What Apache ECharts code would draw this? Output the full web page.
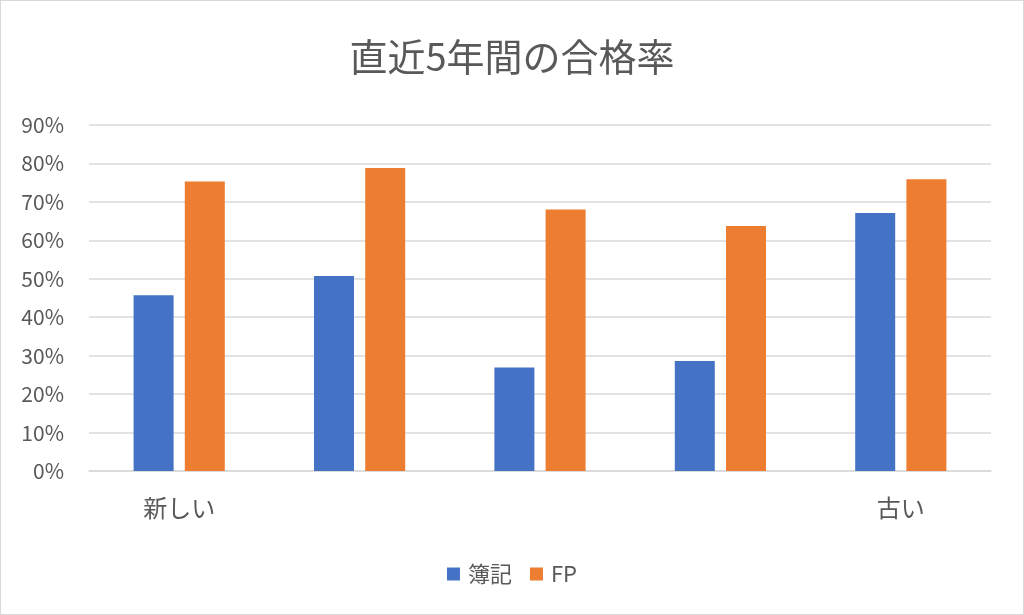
<!DOCTYPE html>
<html><head><meta charset="utf-8">
<script src="https://cdn.jsdelivr.net/npm/echarts@6/dist/echarts.min.js"></script>
<style>
html,body{margin:0;padding:0;background:#fff;}
#c{width:1022px;height:613px;border:1px solid #d9d9d9;}
</style></head>
<body><div id="c"></div>
<script>
const categories = ['新しい', '', '', '', '古い'];
const boki = [45.7, 50.7, 26.9, 28.6, 67.1];
const fp = [75.3, 78.8, 68.0, 63.7, 75.9];
const yTicks = [0, 10, 20, 30, 40, 50, 60, 70, 80, 90];

const font = '"Noto Sans CJK JP", "Noto Sans", sans-serif';
const chart = echarts.init(document.getElementById('c'));
chart.setOption({
  backgroundColor: '#fff',
  animation: false,
  textStyle: { fontFamily: font },
  title: {
    text: '直近5年間の合格率',
    left: 'center', top: 32,
    textStyle: { fontSize: 38, fontWeight: 'normal', color: '#595959', fontFamily: font }
  },
  legend: {
    data: ['簿記', 'FP'],
    bottom: 24, left: 'center',
    icon: 'rect', itemWidth: 13, itemHeight: 13, itemGap: 18,
    textStyle: { fontSize: 22, color: '#595959', fontFamily: font, padding: [0, 0, 0, 3] }
  },
  grid: { left: 88, right: 32, top: 124, bottom: 143, containLabel: false },
  xAxis: {
    type: 'category', data: categories,
    axisLine: { show: true, lineStyle: { color: '#d9d9d9', width: 1.5 } },
    axisTick: { show: false },
    axisLabel: { fontSize: 24, color: '#595959', margin: 25, fontFamily: font }
  },
  yAxis: {
    type: 'value', min: yTicks[0], max: yTicks[yTicks.length - 1], interval: 10,
    axisLine: { show: false }, axisTick: { show: false },
    splitLine: { lineStyle: { color: '#d9d9d9', width: 1.5 } },
    axisLabel: { fontSize: 21, color: '#595959', margin: 25, formatter: v => v + '%', fontFamily: font }
  },
  series: [
    { name: '簿記', type: 'bar', data: boki, barWidth: 40, barGap: '28%',
      itemStyle: { color: '#4472C4' } },
    { name: 'FP', type: 'bar', data: fp, barWidth: 40,
      itemStyle: { color: '#ED7D31' } }
  ]
});
</script></body></html>
